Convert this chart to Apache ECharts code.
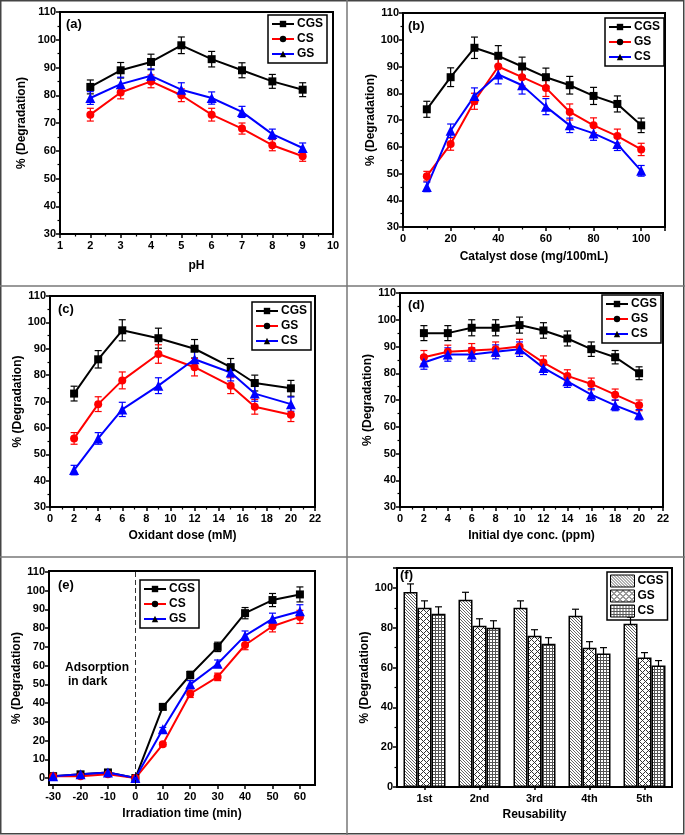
<!DOCTYPE html>
<html>
<head>
<meta charset="utf-8">
<script src="https://cdn.jsdelivr.net/npm/echarts@6/dist/echarts.min.js"></script>
<style>
  html, body { margin: 0; padding: 0; background: #fff; }
  #chart { width: 685px; height: 835px; }
</style>
</head>
<body>
<div id="chart"></div>
<script>
// (a) pH
const phX = [2, 3, 4, 5, 6, 7, 8, 9];
const phCGS = [83, 89, 92, 98, 93, 89, 85, 82];
const phCS = [73, 81, 85, 80, 73, 68, 62, 58];
const phGS = [79, 84, 87, 82, 79, 74, 66, 61];
const phErrCGS = [2.5, 2.8, 2.8, 3, 2.8, 2.7, 2.5, 2.5];
const phErrCS = [2.3, 2.3, 2.3, 2.3, 2.3, 2, 2, 1.8];
const phErrGS = [2.3, 2.5, 2.5, 2.5, 2.2, 2, 1.8, 1.8];

// (b) catalyst dose
const doseX = [10, 20, 30, 40, 50, 60, 70, 80, 90, 100];
const doseCGS = [74, 86, 97, 94, 90, 86, 83, 79, 76, 68];
const doseGS = [49, 61, 77, 90, 86, 82, 73, 68, 64, 59];
const doseCS = [45, 66, 79, 87, 83, 75, 68, 65, 61, 51];
const doseErrCGS = [3, 3.5, 4, 3.8, 3.5, 3.4, 3.3, 3.2, 3, 2.7];
const doseErrGS = [1.8, 2.3, 3, 3.5, 3.3, 3.2, 3, 2.8, 2.6, 2.3];
const doseErrCS = [1.8, 2.5, 3, 3.5, 3.3, 3, 2.7, 2.6, 2.4, 2];

// (c) oxidant dose
const oxX = [2, 4, 6, 9, 12, 15, 17, 20];
const oxCGS = [73, 86, 97, 94, 90, 83, 77, 75];
const oxGS = [56, 69, 78, 88, 83, 76, 68, 65];
const oxCS = [44, 56, 67, 76, 86, 81, 73, 69];
const oxErrCGS = [2.8, 3.3, 4, 3.8, 3.5, 3.3, 3, 3];
const oxErrGS = [2.2, 2.8, 3.2, 3.5, 3.3, 3, 2.8, 2.6];
const oxErrCS = [1.8, 2.2, 2.7, 3, 3.4, 3.2, 2.9, 2.7];

// (d) initial dye conc.
const dyeX = [2, 4, 6, 8, 10, 12, 14, 16, 18, 20];
const dyeCGS = [95, 95, 97, 97, 98, 96, 93, 89, 86, 80];
const dyeGS = [86, 88, 88.5, 89, 90, 84, 79, 76, 72, 68];
const dyeCS = [84, 87, 87, 88, 89, 82, 77, 72, 68, 64.5];
const dyeErrCGS = [2.8, 2.8, 3, 3, 3, 2.9, 2.8, 2.7, 2.5, 2.4];
const dyeErrGS = [2.5, 2.5, 2.6, 2.7, 2.7, 2.5, 2.3, 2.2, 2.1, 2];
const dyeErrCS = [2.5, 2.5, 2.5, 2.6, 2.7, 2.5, 2.3, 2.2, 2, 1.9];

// (e) irradiation time
const timeX = [-30, -20, -10, 0, 10, 20, 30, 40, 50, 60];
const timeCGS = [1, 2, 3, 0, 38, 55, 70, 88, 95, 98];
const timeCS = [1, 1, 2, 0, 18, 45, 54, 71, 81, 86];
const timeGS = [1, 2, 3, 0, 26, 50, 61, 76, 85, 89];
const timeErrCGS = [1, 1, 1, 0.5, 1.5, 2, 2.5, 3, 3.5, 4];
const timeErrCS = [0.5, 0.5, 0.5, 0.3, 1, 2, 2, 2.5, 3, 3.5];
const timeErrGS = [1, 1, 1, 0.5, 1, 2, 2, 2.5, 3, 3.5];
const timeTicks = [-30, -20, -10, 0, 10, 20, 30, 40, 50, 60];
const timeYTicks = [0, 10, 20, 30, 40, 50, 60, 70, 80, 90, 100, 110];

// (f) reusability
const cycles = ['1st', '2nd', '3rd', '4th', '5th'];
const reuseCGS = [98, 94, 90, 86, 82];
const reuseGS = [90, 81, 76, 70, 65];
const reuseCS = [87, 80, 72, 67, 61];
const reuseErrCGS = [4, 3.8, 3.5, 3.3, 3.3];
const reuseErrGS = [3.5, 3.5, 3, 3, 2.5];
const reuseErrCS = [3.5, 3.5, 3, 3, 2.5];

const FONT = "'Liberation Sans', Arial, sans-serif";
const BLACK = '#000000', RED = '#ff0000', BLUE = '#0000ff';

// hatch patterns for the bars
function makePattern(size, test, ink) {
  const c = document.createElement('canvas');
  c.width = size; c.height = size;
  const ctx = c.getContext('2d');
  ctx.fillStyle = '#fff';
  ctx.fillRect(0, 0, size, size);
  ctx.fillStyle = ink;
  for (let x = 0; x < size; x++) {
    for (let y = 0; y < size; y++) {
      if (test(x, y, size)) ctx.fillRect(x, y, 1, 1);
    }
  }
  return { image: c, repeat: 'repeat' };
}
const patDiag = makePattern(3, (x, y, s) => (x - y + s) % s === 0, '#666');
const patCross = makePattern(6, (x, y, s) => (x - y + s) % s === 0 || (x + y) % s === 0, '#333');
const patGrid = makePattern(3, (x, y, s) => x % s === 0 || y % s === 0, '#555');

const grids = [
  { left: 60, top: 12, width: 273, height: 222 },
  { left: 403, top: 13, width: 262, height: 214 },
  { left: 50, top: 296, width: 265, height: 211 },
  { left: 400, top: 293, width: 263, height: 214 },
  { left: 49, top: 571, width: 266, height: 214 },
  { left: 397, top: 568, width: 275, height: 219 }
].map(g => Object.assign({ show: true, borderColor: '#000', borderWidth: 2, backgroundColor: 'transparent' }, g));

const tickFont = { color: '#000', fontSize: 11, fontWeight: 'bold', fontFamily: FONT };

function axis(gi, opts, nameGap) {
  return Object.assign({
    type: 'value',
    gridIndex: gi,
    nameLocation: 'middle',
    nameGap: nameGap,
    nameTextStyle: { color: '#000', fontSize: 12, fontWeight: 'bold', fontFamily: FONT },
    axisLine: { show: true, onZero: false, lineStyle: { color: '#000', width: 2 } },
    axisTick: { show: true, inside: false, length: 4, lineStyle: { color: '#000', width: 1.5 } },
    minorTick: { show: true, splitNumber: 2, length: 2.5, lineStyle: { color: '#000', width: 1.2 } },
    splitLine: { show: false },
    axisLabel: Object.assign({ margin: 4 }, tickFont)
  }, opts);
}
const xLab = Object.assign({ margin: 6 }, tickFont);

const xAxes = [
  axis(0, { name: 'pH', min: 1, max: 10, interval: 1, axisLabel: xLab }, 26),
  axis(1, { name: 'Catalyst dose (mg/100mL)', min: 0, max: 110, interval: 20,
    axisLabel: Object.assign({ showMaxLabel: false }, xLab) }, 24),
  axis(2, { name: 'Oxidant dose (mM)', min: 0, max: 22, interval: 2, axisLabel: xLab }, 23),
  axis(3, { name: 'Initial dye conc. (ppm)', min: 0, max: 22, interval: 2, axisLabel: xLab }, 23),
  axis(4, { name: 'Irradiation time (min)', min: -31.5, max: 65.5,
    axisLabel: Object.assign({ customValues: timeTicks }, xLab),
    axisTick: { show: true, length: 4, lineStyle: { color: '#000', width: 1.5 }, customValues: timeTicks },
    minorTick: { show: false } }, 23),
  axis(5, { type: 'category', name: 'Reusability', data: cycles, axisLabel: xLab,
    axisTick: { show: true, alignWithLabel: true, length: 3, lineStyle: { color: '#000', width: 1.5 } },
    minorTick: { show: false } }, 22)
];

const yName = '% (Degradation)';
const yAxes = [
  axis(0, { name: yName, min: 30, max: 110, interval: 10 }, 32),
  axis(1, { name: yName, min: 30, max: 110, interval: 10 }, 24),
  axis(2, { name: yName, min: 30, max: 110, interval: 10 }, 22),
  axis(3, { name: yName, min: 30, max: 110, interval: 10 }, 26),
  axis(4, { name: yName, min: -3.7, max: 110.5,
    axisLabel: Object.assign({ margin: 4, customValues: timeYTicks }, tickFont),
    axisTick: { show: true, length: 4, lineStyle: { color: '#000', width: 1.5 }, customValues: timeYTicks },
    minorTick: { show: false } }, 21),
  axis(5, { name: yName, min: 0, max: 110, interval: 20,
    axisLabel: Object.assign({ margin: 4, showMaxLabel: false }, tickFont) }, 23)
];

const symbolOf = { rect: ['rect', 8], circle: ['circle', 8], tri: ['triangle', 10] };

function lineSeries(name, gi, xs, ys, color, shape) {
  return {
    type: 'line', name: name, xAxisIndex: gi, yAxisIndex: gi,
    data: xs.map((x, i) => [x, ys[i]]),
    symbol: symbolOf[shape][0], symbolSize: symbolOf[shape][1],
    lineStyle: { color: color, width: 2 },
    itemStyle: { color: color },
    z: 3
  };
}

function errSeries(gi, xs, ys, errs, color, offset) {
  return {
    type: 'custom', xAxisIndex: gi, yAxisIndex: gi, silent: true, z: 2,
    data: xs.map((x, i) => [x, ys[i] - errs[i], ys[i] + errs[i]]),
    renderItem: function (params, api) {
      const lo = api.coord([api.value(0), api.value(1)]);
      const hi = api.coord([api.value(0), api.value(2)]);
      const x = lo[0] + (offset || 0);
      const w = 3.5;
      const st = { stroke: color, lineWidth: 1.2 };
      return {
        type: 'group',
        children: [
          { type: 'line', shape: { x1: x, y1: lo[1], x2: x, y2: hi[1] }, style: st },
          { type: 'line', shape: { x1: x - w, y1: lo[1], x2: x + w, y2: lo[1] }, style: st },
          { type: 'line', shape: { x1: x - w, y1: hi[1], x2: x + w, y2: hi[1] }, style: st }
        ]
      };
    }
  };
}

const BAR_W = 14;
function barSeries(name, ys, pattern) {
  return {
    type: 'bar', name: name, xAxisIndex: 5, yAxisIndex: 5,
    data: ys, barWidth: BAR_W, barGap: '0%',
    itemStyle: { color: pattern, borderColor: '#000', borderWidth: 1.5 },
    z: 2
  };
}
const cycleIdx = cycles.map((c, i) => i);

const series = [
  // (a)
  errSeries(0, phX, phCGS, phErrCGS, BLACK), errSeries(0, phX, phCS, phErrCS, RED), errSeries(0, phX, phGS, phErrGS, BLUE),
  lineSeries('CGS-a', 0, phX, phCGS, BLACK, 'rect'),
  lineSeries('CS-a', 0, phX, phCS, RED, 'circle'),
  lineSeries('GS-a', 0, phX, phGS, BLUE, 'tri'),
  // (b)
  errSeries(1, doseX, doseCGS, doseErrCGS, BLACK), errSeries(1, doseX, doseGS, doseErrGS, RED), errSeries(1, doseX, doseCS, doseErrCS, BLUE),
  lineSeries('CGS-b', 1, doseX, doseCGS, BLACK, 'rect'),
  lineSeries('GS-b', 1, doseX, doseGS, RED, 'circle'),
  lineSeries('CS-b', 1, doseX, doseCS, BLUE, 'tri'),
  // (c)
  errSeries(2, oxX, oxCGS, oxErrCGS, BLACK), errSeries(2, oxX, oxGS, oxErrGS, RED), errSeries(2, oxX, oxCS, oxErrCS, BLUE),
  lineSeries('CGS-c', 2, oxX, oxCGS, BLACK, 'rect'),
  lineSeries('GS-c', 2, oxX, oxGS, RED, 'circle'),
  lineSeries('CS-c', 2, oxX, oxCS, BLUE, 'tri'),
  // (d)
  errSeries(3, dyeX, dyeCGS, dyeErrCGS, BLACK), errSeries(3, dyeX, dyeGS, dyeErrGS, RED), errSeries(3, dyeX, dyeCS, dyeErrCS, BLUE),
  lineSeries('CGS-d', 3, dyeX, dyeCGS, BLACK, 'rect'),
  lineSeries('GS-d', 3, dyeX, dyeGS, RED, 'circle'),
  lineSeries('CS-d', 3, dyeX, dyeCS, BLUE, 'tri'),
  // (e)
  errSeries(4, timeX, timeCGS, timeErrCGS, BLACK), errSeries(4, timeX, timeCS, timeErrCS, RED), errSeries(4, timeX, timeGS, timeErrGS, BLUE),
  Object.assign(lineSeries('CGS-e', 4, timeX, timeCGS, BLACK, 'rect'), {
    markLine: { silent: true, symbol: 'none', label: { show: false },
      lineStyle: { color: '#000', width: 0.8, type: [5, 3] }, data: [{ xAxis: 0 }] }
  }),
  lineSeries('CS-e', 4, timeX, timeCS, RED, 'circle'),
  lineSeries('GS-e', 4, timeX, timeGS, BLUE, 'tri'),
  // (f)
  barSeries('CGS-f', reuseCGS, patDiag),
  barSeries('GS-f', reuseGS, patCross),
  barSeries('CS-f', reuseCS, patGrid),
  errSeries(5, cycleIdx, reuseCGS, reuseErrCGS, BLACK, -BAR_W),
  errSeries(5, cycleIdx, reuseGS, reuseErrGS, BLACK, 0),
  errSeries(5, cycleIdx, reuseCS, reuseErrCS, BLACK, BAR_W)
];

function legend(names, left, top, isBar) {
  return {
    data: names, left: left, top: top, orient: 'vertical',
    borderColor: '#000', borderWidth: 1.5, padding: [2, 4, 2, 3], itemGap: 1,
    itemWidth: isBar ? 24 : 22, itemHeight: isBar ? 12 : 8,
    icon: isBar ? 'rect' : undefined,
    selectedMode: false,
    formatter: n => n.split('-')[0],
    textStyle: { color: '#000', fontSize: 12, fontWeight: 'bold', fontFamily: FONT, lineHeight: 14, padding: [0, 0, 0, -2] },
    itemStyle: isBar ? { borderColor: '#000', borderWidth: 1 } : undefined
  };
}

const legends = [
  legend(['CGS-a', 'CS-a', 'GS-a'], 268, 15),
  legend(['CGS-b', 'GS-b', 'CS-b'], 605, 18),
  legend(['CGS-c', 'GS-c', 'CS-c'], 252, 302),
  legend(['CGS-d', 'GS-d', 'CS-d'], 602, 295),
  legend(['CGS-e', 'CS-e', 'GS-e'], 140, 580),
  legend(['CGS-f', 'GS-f', 'CS-f'], 607, 572, true)
];

function label(text, x, y, size) {
  return { type: 'text', left: x, top: y, z: 10,
    style: { text: text, fill: '#000', font: 'bold ' + (size || 13) + 'px ' + FONT } };
}
const frameStyle = { stroke: '#777', lineWidth: 1.5 };
const graphics = [
  { type: 'rect', shape: { x: 0.75, y: 0.75, width: 683, height: 833 }, style: { fill: 'none', stroke: '#444', lineWidth: 1.5 }, silent: true },
  { type: 'line', shape: { x1: 347, y1: 0, x2: 347, y2: 835 }, style: frameStyle, silent: true },
  { type: 'line', shape: { x1: 0, y1: 286, x2: 685, y2: 286 }, style: frameStyle, silent: true },
  { type: 'line', shape: { x1: 0, y1: 557, x2: 685, y2: 557 }, style: frameStyle, silent: true },
  label('(a)', 66, 18),
  label('(b)', 408, 20),
  label('(c)', 58, 303),
  label('(d)', 408, 299),
  label('(e)', 58, 579),
  label('(f)', 400, 569),
  label('Adsorption', 65, 662, 12),
  label('in dark', 68, 676, 12)
];

const chart = echarts.init(document.getElementById('chart'), null, { renderer: 'canvas' });
chart.setOption({
  animation: false,
  backgroundColor: '#fff',
  grid: grids,
  xAxis: xAxes,
  yAxis: yAxes,
  legend: legends,
  series: series,
  graphic: graphics
});
</script>
</body>
</html>
